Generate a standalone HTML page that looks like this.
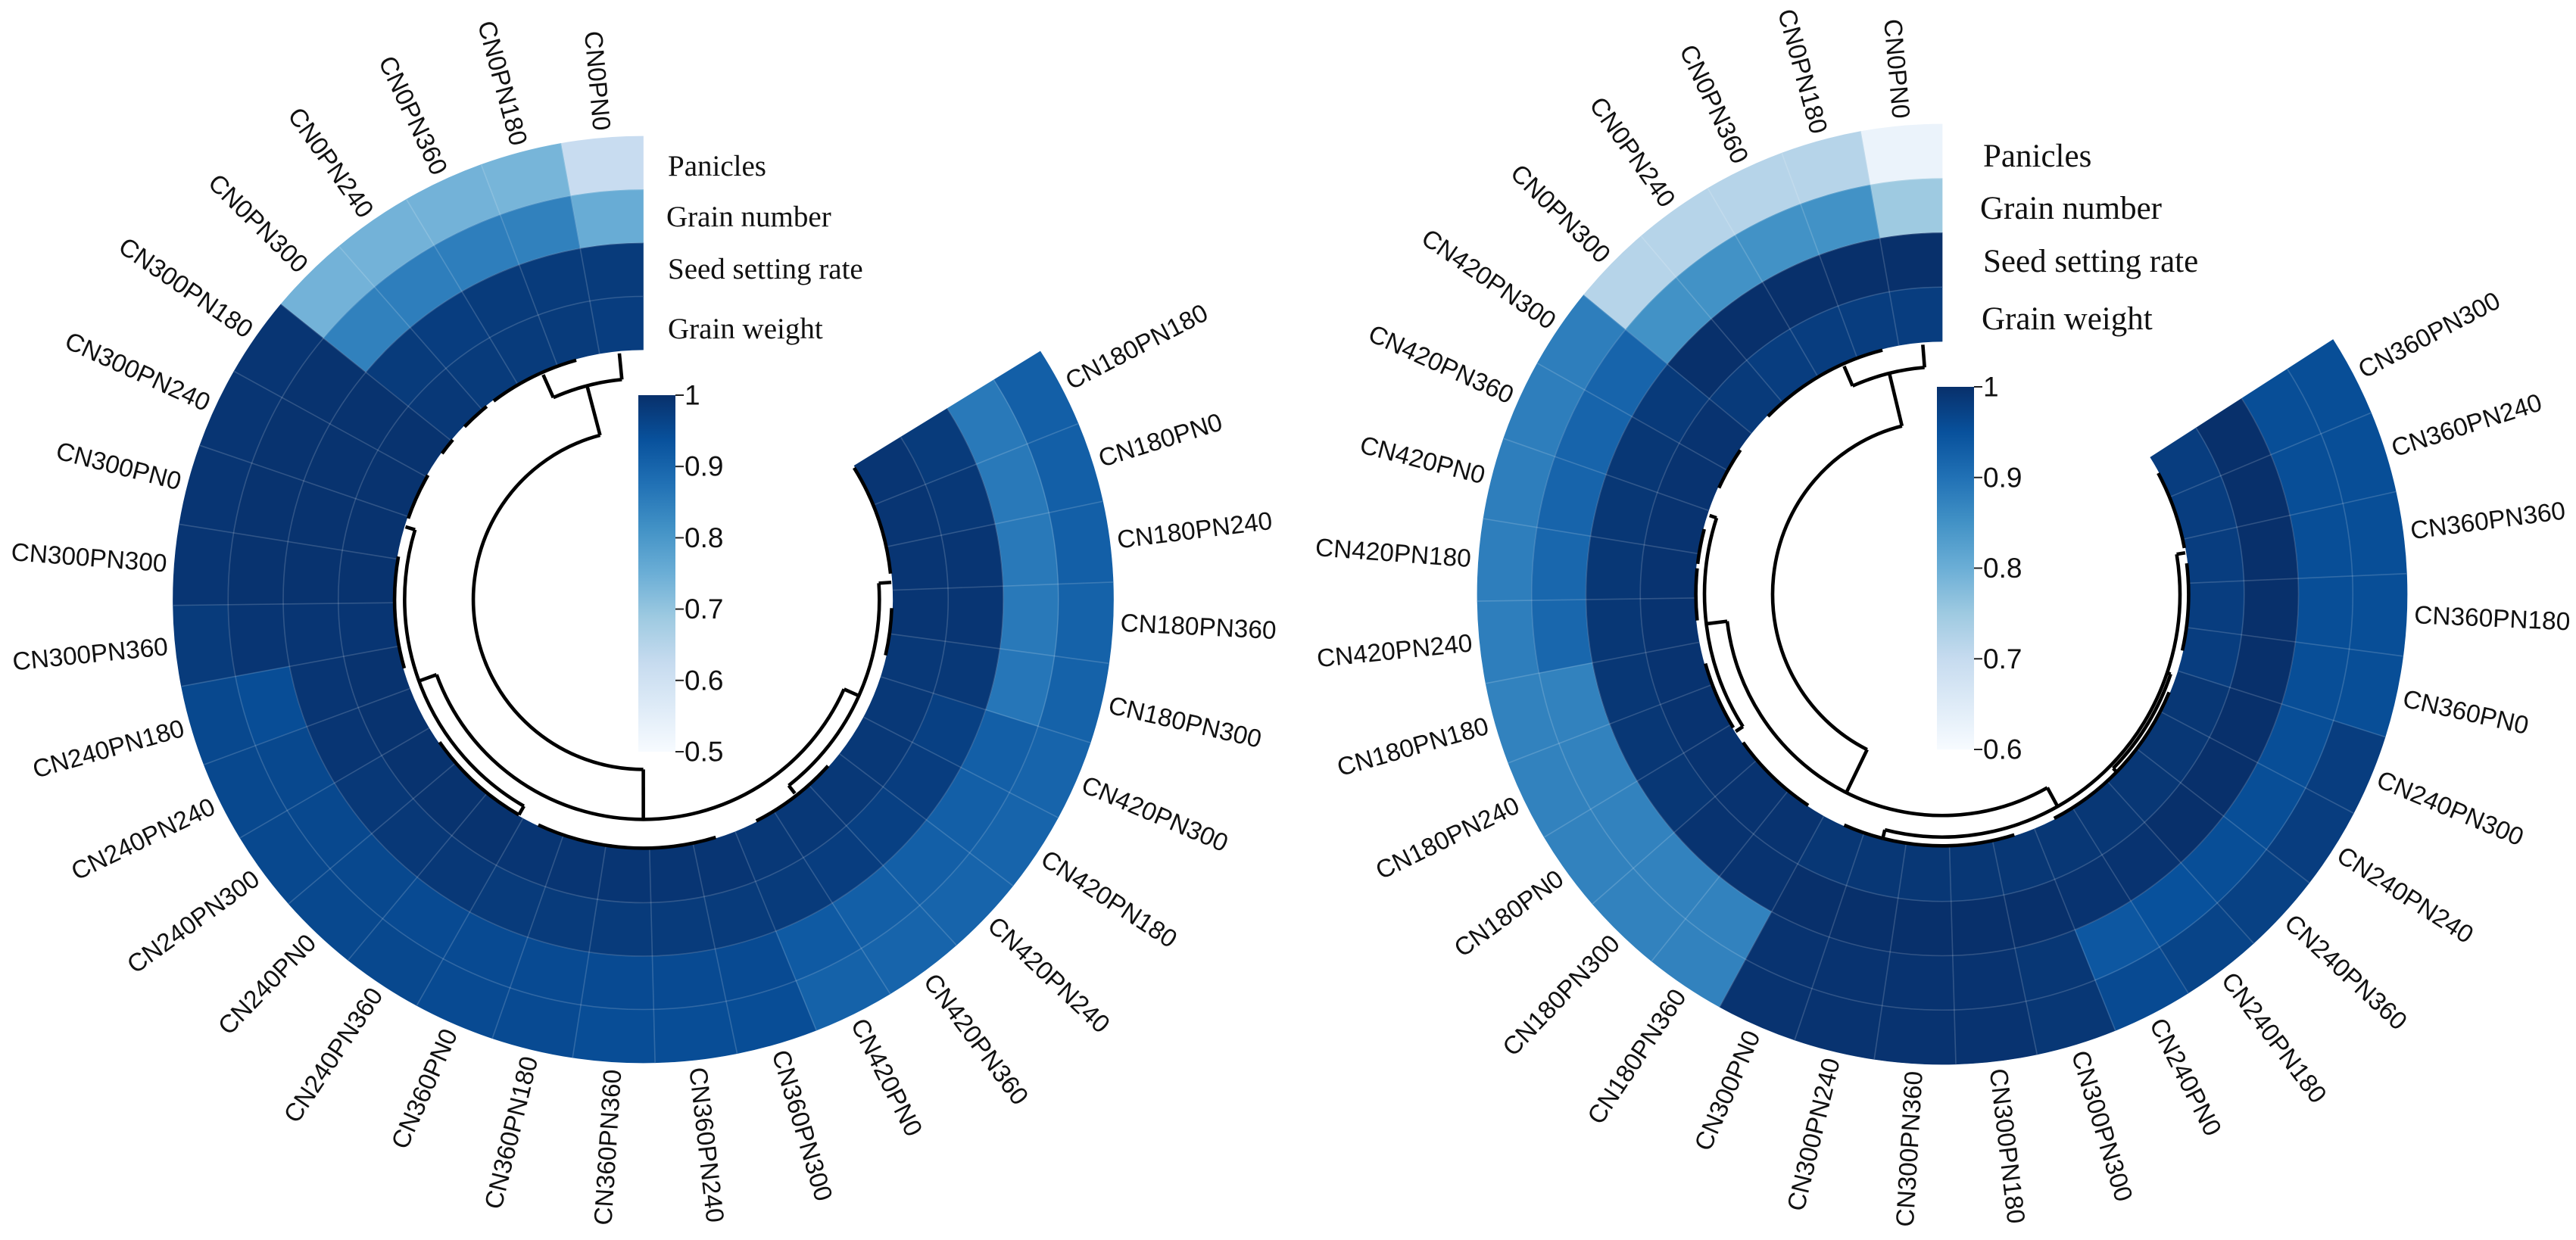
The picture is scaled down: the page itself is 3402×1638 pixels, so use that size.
<!DOCTYPE html>
<html lang="en">
<head>
<meta charset="utf-8">
<title>Circular heatmaps of yield components</title>
<style>
html,body{margin:0;padding:0;background:#fff;width:3402px;height:1638px;overflow:hidden}
svg{display:block}
.lab{font-family:"Liberation Sans",sans-serif;font-size:33.4px;fill:#111}
.trk{font-family:"Liberation Serif",serif;fill:#111}
.tick{font-family:"Liberation Sans",sans-serif;font-size:37px;fill:#111}
</style>
</head>
<body>
<svg id="figure" xmlns="http://www.w3.org/2000/svg" width="3402" height="1638" viewBox="0 0 3402 1638">
<rect width="3402" height="1638" fill="#fff"/>
<g id="left-chart"></g>
<g id="right-chart"></g>
</svg>
<script>
const trackNames = ["Panicles", "Grain number", "Seed setting rate", "Grain weight"];

const leftCategories = ["CN0PN0","CN0PN180","CN0PN360","CN0PN240","CN0PN300","CN300PN180","CN300PN240","CN300PN0","CN300PN300","CN300PN360","CN240PN180","CN240PN240","CN240PN300","CN240PN0","CN240PN360","CN360PN0","CN360PN180","CN360PN360","CN360PN240","CN360PN300","CN420PN0","CN420PN360","CN420PN240","CN420PN180","CN420PN300","CN180PN300","CN180PN360","CN180PN240","CN180PN0","CN180PN180"];
const leftPanicles = [.62,.735,.74,.74,.74,.99,.99,.99,.99,.98,.955,.955,.955,.955,.955,.95,.95,.945,.945,.945,.905,.9,.9,.9,.9,.905,.905,.91,.91,.91];
const leftGrainNumber = [.755,.845,.85,.85,.845,.995,.995,.995,.995,.99,.945,.955,.955,.955,.95,.95,.95,.95,.95,.95,.92,.91,.91,.91,.91,.865,.86,.86,.86,.86];
const leftSeedSetting = [.98,.98,.98,.975,.98,.995,.995,.995,.995,.99,.99,.99,.985,.985,.985,.98,.98,.98,.98,.98,.98,.975,.97,.975,.97,.985,.99,.99,.985,.98];
const leftGrainWeight = [.975,.98,.98,.98,.985,.995,.995,.995,.995,.99,.995,.995,.995,.995,.995,.99,.99,.99,.99,.99,.985,.985,.985,.985,.985,.985,.99,.99,.99,.99];
const leftTicks = [1, 0.9, 0.8, 0.7, 0.6, 0.5];
const leftDendroArcs = [[1.46,17.86,.32],[.55,2.38,.115],[10.91,24.4,.12],[7.24,14.88,.045],[21.63,27.18,.055],[1.55,3.67,.005],[3.87,4.56,.005],[4.96,5.36,.005],[5.95,7.04,.005],[7.94,10.52,.005],[12.4,14.88,.005],[15.38,17.16,.005],[17.06,19.54,.005],[20.54,22.62,.005],[25.5,26.59,.005],[27.38,29.96,.005]];
const leftDendroStems = [[1.46,.32,.115],[17.86,.32,.12],[.55,.115,.01],[2.38,.115,.015],[10.91,.12,.045],[24.4,.12,.055],[7.24,.045,.005],[14.88,.045,.005],[21.63,.055,.015],[27.18,.055,.005]];

const rightCategories = ["CN0PN0","CN0PN180","CN0PN360","CN0PN240","CN0PN300","CN420PN300","CN420PN360","CN420PN0","CN420PN180","CN420PN240","CN180PN180","CN180PN240","CN180PN0","CN180PN300","CN180PN360","CN300PN0","CN300PN240","CN300PN360","CN300PN180","CN300PN300","CN240PN0","CN240PN180","CN240PN360","CN240PN240","CN240PN300","CN360PN0","CN360PN180","CN360PN360","CN360PN240","CN360PN300"];
const rightPanicles = [.625,.72,.72,.72,.72,.88,.88,.88,.88,.88,.875,.875,.875,.875,.875,.995,.995,.995,.995,.99,.96,.97,.975,.98,.98,.955,.955,.955,.955,.955];
const rightGrainNumber = [.75,.85,.85,.85,.85,.92,.92,.92,.915,.915,.875,.875,.875,.875,.875,.995,.995,.995,.995,.99,.94,.95,.955,.955,.955,.955,.955,.955,.955,.955];
const rightSeedSetting = [1,1,1,1,1,.985,.99,.99,.99,.99,.99,.99,.99,.995,.995,1,1,1,1,1,.995,.995,1,1,1,1,1,1,1,1];
const rightGrainWeight = [.98,.98,.98,.98,.985,.995,.995,.995,.995,.995,.995,.995,.995,.995,.995,.99,.99,.99,.99,.99,.99,.99,.99,.99,.99,.98,.98,.98,.98,.98];
const rightTicks = [1, 0.9, 0.8, 0.7, 0.6];
const rightDendroArcs = [[1.36,15.23,.315],[.45,2.35,.10],[9.61,20.71,.125],[7.1,12.19,.04],[16.45,27.69,.04],[22.3,24.88,.025],[1.39,4.46,.005],[5.45,6.44,.005],[7.43,8.23,.005],[8.33,9.51,.005],[10.5,12.09,.005],[12.49,14.57,.005],[15.51,16.45,.005],[16.45,19.52,.005],[20.51,24.48,.005],[25.47,27.45,.005],[27.8,29.6,.005]];
const rightDendroStems = [[1.36,.315,.10],[15.23,.315,.125],[.45,.10,.01],[2.35,.10,.015],[9.61,.125,.04],[20.71,.125,.04],[7.1,.04,.01],[12.19,.04,.005],[16.45,.04,.005],[27.69,.04,.005],[24.88,.04,.025],[22.3,.025,.01]];

const BLUES = ["#f7fbff","#deebf7","#c6dbef","#9ecae1","#6baed6","#4292c6","#2171b5","#08519c","#08306b"];
const NS = "http://www.w3.org/2000/svg";

function hex2rgb(h){return [1,3,5].map(i=>parseInt(h.substr(i,2),16));}
function blues(t){
  t=Math.max(0,Math.min(1,t));
  const p=t*(BLUES.length-1), i=Math.min(BLUES.length-2,Math.floor(p)), f=p-i;
  const a=hex2rgb(BLUES[i]), b=hex2rgb(BLUES[i+1]);
  return "rgb("+a.map((v,k)=>Math.round(v+(b[k]-v)*f)).join(",")+")";
}
function mk(parent,tag,attrs){
  const el=document.createElementNS(NS,tag);
  for(const k in attrs) el.setAttribute(k,attrs[k]);
  parent.appendChild(el);
  return el;
}

function drawChart(root,cfg){
  const n=cfg.categories.length;
  const cell=(360-cfg.gap)/n;
  const rad=Math.PI/180;
  const colorOf=v=>blues((v-cfg.min)/(cfg.max-cfg.min));
  const angle=pos=>pos*cell;
  const pt=(deg,rx,ry)=>[cfg.cx-rx*Math.sin(deg*rad),cfg.cy-ry*Math.cos(deg*rad)];
  const radiiAt=t=>[cfg.rxIn+(cfg.rxOut-cfg.rxIn)*t,cfg.ryIn+(cfg.ryOut-cfg.ryIn)*t];
  const radiiDendro=h=>[cfg.rxIn*(1-h),cfg.ryIn*(1-h)];
  const f=v=>v.toFixed(2);
  const arcPath=(a0,a1,rx,ry)=>{
    const p0=pt(a0,rx,ry),p1=pt(a1,rx,ry),large=(a1-a0)>180?1:0;
    return "M"+f(p0[0])+" "+f(p0[1])+"A"+f(rx)+" "+f(ry)+" 0 "+large+" 0 "+f(p1[0])+" "+f(p1[1]);
  };

  const cells=mk(root,"g",{});
  
  
  cfg.tracks.forEach((vals,tr)=>{
    const [ox,oy]=radiiAt(1-tr/4), [ix,iy]=radiiAt(1-(tr+1)/4);
    vals.forEach((v,i)=>{
      const a0=angle(i),a1=angle(i+1);
      const p0=pt(a0,ox,oy),p1=pt(a1,ox,oy),p2=pt(a1,ix,iy),p3=pt(a0,ix,iy);
      const col=colorOf(v);
      const c=mk(cells,"path",{
        d:"M"+f(p0[0])+" "+f(p0[1])+"A"+f(ox)+" "+f(oy)+" 0 0 0 "+f(p1[0])+" "+f(p1[1])+"L"+f(p2[0])+" "+f(p2[1])+"A"+f(ix)+" "+f(iy)+" 0 0 1 "+f(p3[0])+" "+f(p3[1])+"Z",
        fill:col,stroke:col,"stroke-width":0.7
      });
      
      
    });
  });

  const grid=mk(root,"g",{stroke:"rgba(255,255,255,0.17)","stroke-width":1.6,fill:"none"});
  
  
  for(let i=1;i<n;i++){
    const [ox,oy]=radiiAt(1),[ix,iy]=radiiAt(0);
    const a=pt(angle(i),ox,oy),b=pt(angle(i),ix,iy);
    mk(grid,"path",{d:"M"+f(a[0])+" "+f(a[1])+"L"+f(b[0])+" "+f(b[1])});
  }
  [0.25,0.5,0.75].forEach(t=>{
    const [rx,ry]=radiiAt(t);
    mk(grid,"path",{d:arcPath(0,90,rx,ry)+arcPath(90,180,rx,ry)+arcPath(180,angle(n),rx,ry)});
  });

  const dendro=mk(root,"g",{stroke:"#000","stroke-width":4.6,fill:"none","stroke-linecap":"butt"});
  
  
  cfg.arcs.forEach(a=>{
    const [rx,ry]=radiiDendro(a[2]);
    const e=mk(dendro,"path",{d:arcPath(angle(a[0]),angle(a[1]),rx,ry)});
    
    
  });
  cfg.stems.forEach(s=>{
    const [ax,ay]=radiiDendro(s[1]),[bx,by]=radiiDendro(s[2]);
    const p=pt(angle(s[0]),ax,ay),q=pt(angle(s[0]),bx,by);
    const e=mk(dendro,"path",{d:"M"+f(p[0])+" "+f(p[1])+"L"+f(q[0])+" "+f(q[1])});
    
    
  });

  const labels=mk(root,"g",{});
  
  
  cfg.categories.forEach((name,i)=>{
    const th=angle(i+0.5);
    const [ox,oy]=radiiAt(1);
    const p=pt(th,ox+cfg.labelGap,oy+cfg.labelGap);
    const leftSide=th<180;
    const rot=leftSide?90-th:270-th;
    const t=mk(labels,"text",{
      x:f(p[0]),y:f(p[1]),"class":"lab","text-anchor":leftSide?"end":"start",
      "dominant-baseline":"central",transform:"rotate("+f(rot)+" "+f(p[0])+" "+f(p[1])+")"
    });
    t.textContent=name;
    
    
  });

  const legend=mk(root,"g",{});
  
  
  trackNames.forEach((name,i)=>{
    const t=mk(legend,"text",{x:cfg.legendX[i],y:cfg.legendY[i],"class":"trk","font-size":cfg.legendFont});
    t.textContent=name;
    
    
  });

  const bar=mk(root,"g",{});
  
  
  const defs=mk(bar,"defs",{});
  const grad=mk(defs,"linearGradient",{id:cfg.id+"-grad",x1:0,y1:0,x2:0,y2:1});
  BLUES.slice().reverse().forEach((c,i)=>mk(grad,"stop",{offset:i/(BLUES.length-1),"stop-color":c}));
  const cb=cfg.bar;
  const r=mk(bar,"rect",{x:cb.x,y:cb.top,width:cb.w,height:cb.bottom-cb.top,fill:"url(#"+cfg.id+"-grad)"});
  
  
  const yOf=v=>cb.bottom-(v-cfg.min)/(cfg.max-cfg.min)*(cb.bottom-cb.top);
  cfg.ticks.forEach(v=>{
    const y=yOf(v);
    const l=mk(bar,"line",{x1:cb.x+cb.w,x2:cb.x+cb.w+11,y1:y,y2:y,stroke:"#222","stroke-width":2});
    
    
    const t=mk(bar,"text",{x:cb.x+cb.w+12,y:y,"class":"tick","dominant-baseline":"central"});
    t.textContent=String(v);
    
    
  });
}

drawChart(document.getElementById("left-chart"),{
  id:"left",cx:849.5,cy:792,rxIn:330,ryIn:330,rxOut:621,ryOut:612,gap:57.6,labelGap:10,min:0.5,max:1,
  categories:leftCategories,tracks:[leftPanicles,leftGrainNumber,leftSeedSetting,leftGrainWeight],
  arcs:leftDendroArcs,stems:leftDendroStems,ticks:leftTicks,legendFont:39,
  legendX:[882,880,882,882],legendY:[232,299,368,447],
  bar:{x:843,w:49,top:522,bottom:993}
});
drawChart(document.getElementById("right-chart"),{
  id:"right",cx:2565,cy:785,rxIn:327,ryIn:334,rxOut:614,ryOut:621,gap:57.2,labelGap:10,min:0.6,max:1,
  categories:rightCategories,tracks:[rightPanicles,rightGrainNumber,rightSeedSetting,rightGrainWeight],
  arcs:rightDendroArcs,stems:rightDendroStems,ticks:rightTicks,legendFont:43,
  legendX:[2619,2615,2619,2617],legendY:[220,289,359,435],
  bar:{x:2558,w:49,top:511,bottom:990}
});
</script>
</body>
</html>
